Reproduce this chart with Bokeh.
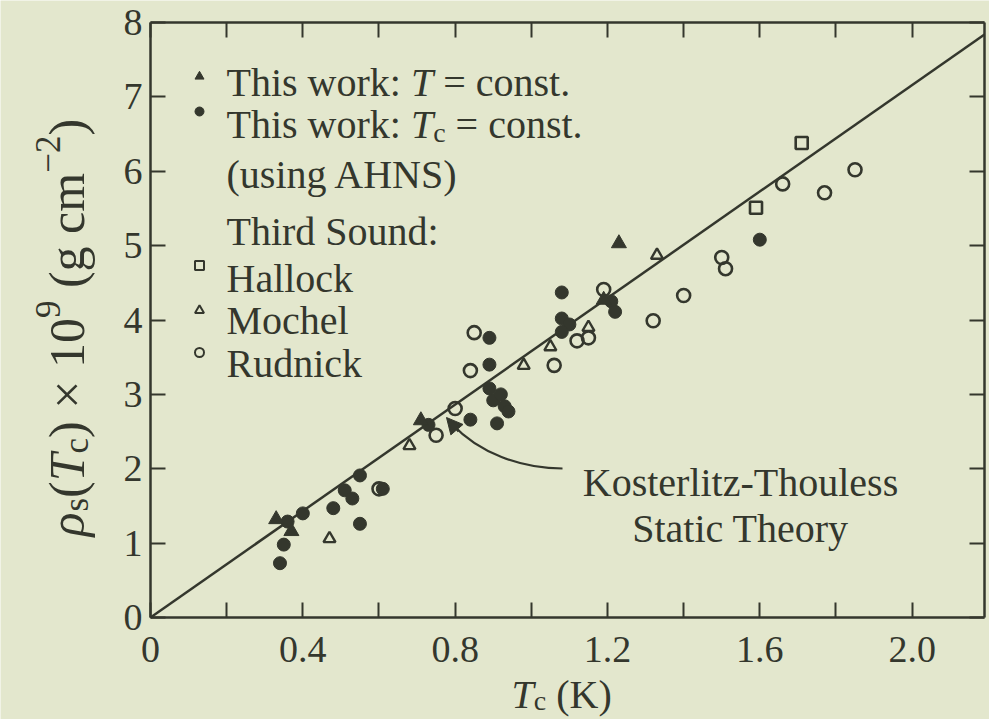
import math

from bokeh.plotting import figure
from bokeh.models import (Range1d, FixedTicker, LinearAxis, Label, Arrow,
                          NormalHead, CustomJSTickFormatter)
from bokeh.embed import file_html
from bokeh.resources import INLINE

# ---------------------------------------------------------------------------
# Data: superfluid density at the transition vs transition temperature
# ---------------------------------------------------------------------------
# This work, T = const. (filled triangles)
tw_T_tc = [0.33, 0.37, 0.71, 1.19, 1.23]
tw_T_rho = [1.32, 1.16, 2.65, 4.27, 5.03]

# This work, Tc = const. using AHNS (filled circles)
tw_Tc_tc = [0.34, 0.35, 0.36, 0.40, 0.48, 0.51, 0.53, 0.55, 0.55, 0.61,
            0.73, 0.84, 0.91, 0.89, 0.89, 0.89, 0.90, 0.92, 0.93, 0.94,
            1.08, 1.08, 1.10, 1.08, 1.21, 1.22, 1.60]
tw_Tc_rho = [0.73, 0.98, 1.29, 1.40, 1.47, 1.71, 1.60, 1.91, 1.26, 1.73,
             2.59, 2.66, 2.61, 3.76, 3.40, 3.08, 2.92, 3.00, 2.84, 2.77,
             4.37, 4.02, 3.94, 3.84, 4.25, 4.11, 5.08]

# Third sound: Hallock (open squares)
hallock_tc = [1.59, 1.71]
hallock_rho = [5.51, 6.38]

# Third sound: Mochel (open triangles)
mochel_tc = [0.47, 0.68, 0.98, 1.05, 1.15, 1.33]
mochel_rho = [1.06, 2.31, 3.39, 3.64, 3.90, 4.87]

# Third sound: Rudnick (open circles)
rudnick_tc = [0.60, 0.75, 0.80, 0.84, 0.85, 1.06, 1.12, 1.15, 1.19, 1.32,
              1.40, 1.50, 1.51, 1.66, 1.77, 1.85]
rudnick_rho = [1.73, 2.45, 2.81, 3.32, 3.83, 3.39, 3.72, 3.76, 4.41, 3.99,
               4.33, 4.84, 4.69, 5.83, 5.71, 6.02]

# Kosterlitz-Thouless static theory (straight line through the origin)
kt_tc = [0.0, 2.19]
kt_rho = [0.0, 7.84]

# Axis ticks
x_ticks = [0.0, 0.4, 0.8, 1.2, 1.6, 2.0]
x_tick_labels = ["0", "0.4", "0.8", "1.2", "1.6", "2.0"]
x_minor_ticks = [0.2, 0.6, 1.0, 1.4, 1.8]
y_ticks = [0, 1, 2, 3, 4, 5, 6, 7, 8]
y_tick_labels = ["0", "1", "2", "3", "4", "5", "6", "7", "8"]

# ---------------------------------------------------------------------------
# Layout and style
# ---------------------------------------------------------------------------
W, H = 989, 719
BOX_L, BOX_R, BOX_T, BOX_B = 150, 984, 22, 617     # axes box on the canvas
X_END, Y_END = 2.19, 8.0                           # data limits of the box

INK = "#34372d"
BG = "#e3e7cd"
FONT = "Liberation Serif"


def px2x(px):
    return (px - BOX_L) / (BOX_R - BOX_L) * X_END


def py2y(py):
    return (BOX_B - py) / (BOX_B - BOX_T) * Y_END


# The frame spans the whole canvas; the axes are pinned to the box edges so
# that titles and annotations can sit anywhere on the page.
p = figure(width=W, height=H,
           x_range=Range1d(px2x(0), px2x(W)), y_range=Range1d(py2y(H), py2y(0)),
           x_axis_type=None, y_axis_type=None,
           output_backend="svg", toolbar_location=None,
           min_border_left=0, min_border_right=0,
           min_border_top=0, min_border_bottom=0)
p.background_fill_color = BG
p.border_fill_color = BG
p.outline_line_color = None
p.grid.visible = False


def make_axis(ticker, location, bounds, labels=None):
    ax = LinearAxis(ticker=ticker, fixed_location=location, bounds=bounds)
    ax.axis_line_color = INK
    ax.axis_line_width = 2.5
    ax.major_tick_line_color = INK
    ax.minor_tick_line_color = INK
    ax.major_tick_line_width = 2
    ax.minor_tick_line_width = 2
    ax.major_tick_in = 15
    ax.major_tick_out = 0
    ax.minor_tick_in = 15
    ax.minor_tick_out = 0
    if labels is not None:
        ax.major_label_text_font = FONT
        ax.major_label_text_font_size = "38px"
        ax.major_label_text_color = INK
        ax.major_label_overrides = labels
    else:
        ax.formatter = CustomJSTickFormatter(code="return ''")
    return ax


xb = make_axis(FixedTicker(ticks=x_ticks, minor_ticks=x_minor_ticks), 0.0,
               (0.0, X_END), dict(zip(x_ticks, x_tick_labels)))
xb.major_label_standoff = 19
yl = make_axis(FixedTicker(ticks=y_ticks), 0.0, (0.0, Y_END),
               dict(zip([float(v) for v in y_ticks], y_tick_labels)))
yl.major_label_standoff = 8
xt = make_axis(FixedTicker(ticks=x_ticks, minor_ticks=x_minor_ticks), Y_END,
               (0.0, X_END))
yr = make_axis(FixedTicker(ticks=y_ticks), X_END, (0.0, Y_END))
p.add_layout(xb, "below")
p.add_layout(yl, "left")
p.add_layout(xt, "above")
p.add_layout(yr, "right")

# ---------------------------------------------------------------------------
# Theory line and data
# ---------------------------------------------------------------------------
p.line(kt_tc, kt_rho, line_color=INK, line_width=2.5)

p.scatter(rudnick_tc, rudnick_rho, marker="circle", size=13,
          fill_color=None, line_color=INK, line_width=2.6)
p.scatter(mochel_tc, mochel_rho, marker="triangle", size=12,
          fill_color=None, line_color=INK, line_width=2.4)
p.scatter(hallock_tc, hallock_rho, marker="square", size=12,
          fill_color=None, line_color=INK, line_width=2.6)
p.scatter(tw_Tc_tc, tw_Tc_rho, marker="circle", size=13,
          fill_color=INK, line_color=INK)
p.scatter(tw_T_tc, tw_T_rho, marker="triangle", size=15,
          fill_color=INK, line_color=INK)

# ---------------------------------------------------------------------------
# Text with italic / sub- / superscript runs (Times-compatible advances)
# ---------------------------------------------------------------------------
ADV_RM = {' ': 250, '(': 333, ')': 333, '.': 250, ':': 278, '=': 564,
          '×': 564, '−': 564, '-': 333, 'A': 722, 'H': 722, 'N': 722,
          'S': 556, 'T': 611, 'K': 722, 'M': 889, 'R': 667, 'a': 444,
          'c': 444, 'd': 500, 'e': 444, 'g': 500, 'h': 500, 'i': 278,
          'k': 500, 'l': 278, 'm': 778, 'n': 500, 'o': 500, 'r': 333,
          's': 389, 't': 278, 'u': 500, 'w': 722, 'y': 500, 'z': 444}
ADV_IT = {'T': 556, 'ρ': 500}
SCRIPT = 0.7


def run_size(kind, size):
    return size * (SCRIPT if kind in ("sub", "sup") else 1.0)


def run_width(text, kind, size):
    table = ADV_IT if kind == "it" else ADV_RM
    return sum(table.get(ch, ADV_RM.get(ch, 500)) for ch in text) * run_size(kind, size) / 1000


def rich(runs, px, py, size, align="left", vertical=False, sub_drop=0.2):
    widths = [run_width(t, k, size) for t, k in runs]
    adv = -sum(widths) / 2 if align == "center" else 0.0
    for (text, kind), w in zip(runs, widths):
        s = run_size(kind, size)
        lead = (len(text) - len(text.lstrip(" "))) * ADV_RM[" "] * s / 1000
        shift = {"sub": -sub_drop * size, "sup": 0.38 * size}.get(kind, 0.0)
        start = adv + lead
        if vertical:
            cx, cy = px - shift, py - start
        else:
            cx, cy = px + start, py - shift
        p.add_layout(Label(
            x=px2x(cx), y=py2y(cy), text=text.strip(" "),
            angle=math.pi / 2 if vertical else 0.0,
            text_font=FONT, text_font_size=f"{s:.1f}px",
            text_font_style="italic" if kind == "it" else "normal",
            text_color=INK, text_align="left", text_baseline="alphabetic"))
        adv += w


# Axis titles
rich([("T", "it"), ("c", "sub"), (" (K)", "rm")], 511, 694, 40, sub_drop=0.15)
rich([("ρ", "it"), ("s", "sub"), ("(", "rm"), ("T", "it"), ("c", "sub"),
      (") × 10", "rm"), ("9", "sup"), (" (g cm", "rm"), ("−2", "sup"),
      (")", "rm")], 66, 536, 50, vertical=True)

# Legend
LEG_MARK_X, LEG_TEXT_X, LEG_SIZE = 199, 226, 40
legend_marks = [
    ("triangle", True, 76),
    ("circle", True, 111),
    ("square", False, 265),
    ("triangle", False, 310),
    ("circle", False, 352),
]
for marker, filled, my in legend_marks:
    p.scatter([px2x(LEG_MARK_X)], [py2y(my)], marker=marker, size=9,
              fill_color=INK if filled else None, line_color=INK,
              line_width=1 if filled else 2)

rich([("This work: ", "rm"), ("T", "it"), (" = const.", "rm")], LEG_TEXT_X, 82, LEG_SIZE)
rich([("This work: ", "rm"), ("T", "it"), ("c", "sub"), (" = const.", "rm")], LEG_TEXT_X, 124, LEG_SIZE)
rich([("(using AHNS)", "rm")], LEG_TEXT_X, 174, LEG_SIZE)
rich([("Third Sound:", "rm")], LEG_TEXT_X, 231, LEG_SIZE)
rich([("Hallock", "rm")], LEG_TEXT_X, 278, LEG_SIZE)
rich([("Mochel", "rm")], LEG_TEXT_X, 320, LEG_SIZE)
rich([("Rudnick", "rm")], LEG_TEXT_X, 363, LEG_SIZE)

# Theory annotation with curved pointer
rich([("Kosterlitz-Thouless", "rm")], 740, 482, 40, align="center")
rich([("Static Theory", "rm")], 740, 528, 40, align="center")

p.bezier(x0=[px2x(562)], y0=[py2y(468)], x1=[px2x(452)], y1=[py2y(424)],
         cx0=[px2x(520)], cy0=[py2y(468)], cx1=[px2x(478)], cy1=[py2y(452)],
         line_color=INK, line_width=2.2)
p.add_layout(Arrow(end=NormalHead(size=16, fill_color=INK, line_color=INK, line_width=1),
                   x_start=px2x(458), y_start=py2y(431),
                   x_end=px2x(446), y_end=py2y(417),
                   line_color=INK, line_width=2))

open("out.html", "w").write(file_html(p, INLINE))
